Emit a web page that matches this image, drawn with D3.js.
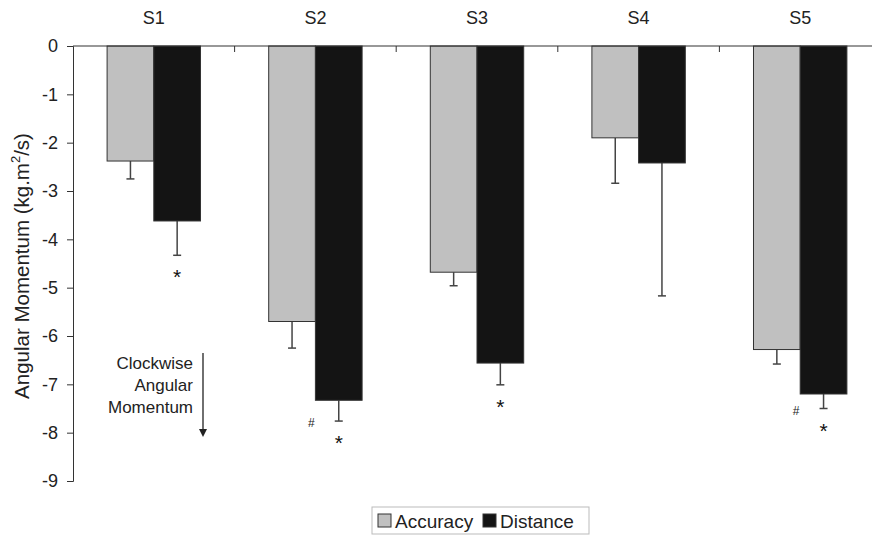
<!DOCTYPE html>
<html>
<head>
<meta charset="utf-8">
<script src="https://cdn.jsdelivr.net/npm/d3@7"></script>
<style>
  body { margin: 0; background: #fff; }
  svg { font-family: "Liberation Sans", Arial, sans-serif; }
</style>
</head>
<body>
<div id="chart"></div>
<script>
// subjects and the two conditions
const subjects = ['S1', 'S2', 'S3', 'S4', 'S5'];
const series = ['Accuracy', 'Distance'];
const accuracy = [-2.38, -5.70, -4.68, -1.90, -6.28];
const accuracyErr = [0.37, 0.55, 0.28, 0.94, 0.30];
const distance = [-3.62, -7.33, -6.56, -2.42, -7.20];
const distanceErr = [0.71, 0.43, 0.45, 2.75, 0.30];
const yTicks = [0, -1, -2, -3, -4, -5, -6, -7, -8, -9];
// significance marks: * under distance bar, # next to it
const starMarks = [true, true, true, false, true];
const hashMarks = [false, true, false, false, true];

const width = 872, height = 541;
const margin = { top: 46, right: -9, bottom: 60, left: 73 };

const svg = d3.select('#chart').append('svg')
  .attr('width', width)
  .attr('height', height);

const x0 = d3.scaleBand()
  .domain(subjects)
  .range([margin.left, width - margin.right])
  .paddingInner(0)
  .paddingOuter(0);

const x1 = d3.scaleBand()
  .domain(series)
  .range([0, x0.bandwidth()])
  .paddingOuter(0.73)
  .paddingInner(0);

const y = d3.scaleLinear()
  .domain([0, -9])
  .range([margin.top, 481]);

const colors = { Accuracy: '#c0c0c0', Distance: '#141414' };

const rows = subjects.map((s, i) => ({
  subject: s,
  values: [
    { key: 'Accuracy', value: accuracy[i], err: accuracyErr[i] },
    { key: 'Distance', value: distance[i], err: distanceErr[i] }
  ],
  star: starMarks[i],
  hash: hashMarks[i]
}));

// y axis
const yAxis = d3.axisLeft(y).tickValues(yTicks).tickSize(6).tickFormat(d3.format('d'));
const gy = svg.append('g')
  .attr('transform', `translate(${margin.left},0)`)
  .call(yAxis);
gy.select('.domain').attr('stroke', '#333');
gy.selectAll('.tick line').attr('stroke', '#333');
gy.selectAll('.tick text')
  .attr('font-size', 18)
  .attr('fill', '#222')
  .attr('x', -15)
  .text(d => d === 0 ? '0' : '-' + Math.abs(d));

// error bars (drawn first so the bars cover the inner half)
const groups = svg.append('g').selectAll('g')
  .data(rows)
  .join('g')
  .attr('transform', d => `translate(${x0(d.subject)},0)`);

groups.selectAll('.err')
  .data(d => d.values)
  .join('g')
  .attr('class', 'err')
  .each(function(d) {
    const g = d3.select(this);
    const cx = x1(d.key) + x1.bandwidth() / 2;
    g.append('line')
      .attr('x1', cx).attr('x2', cx)
      .attr('y1', y(d.value)).attr('y2', y(d.value - d.err))
      .attr('stroke', '#444').attr('stroke-width', 1.5);
    g.append('line')
      .attr('x1', cx - 4).attr('x2', cx + 4)
      .attr('y1', y(d.value - d.err)).attr('y2', y(d.value - d.err))
      .attr('stroke', '#444').attr('stroke-width', 1.5);
  });

groups.selectAll('rect')
  .data(d => d.values)
  .join('rect')
  .attr('x', d => x1(d.key))
  .attr('y', y(0))
  .attr('width', x1.bandwidth())
  .attr('height', d => y(d.value) - y(0))
  .attr('fill', d => colors[d.key])
  .attr('stroke', '#333')
  .attr('stroke-width', 1);

// top axis (zero line) with category labels
const gx = svg.append('g')
  .attr('transform', `translate(0,${y(0)})`);
gx.append('line')
  .attr('x1', margin.left).attr('x2', width - margin.right)
  .attr('stroke', '#333').attr('stroke-width', 1.2);
gx.selectAll('.sep')
  .data(subjects.slice(1))
  .join('line')
  .attr('class', 'sep')
  .attr('x1', d => x0(d)).attr('x2', d => x0(d))
  .attr('y1', 0).attr('y2', 6)
  .attr('stroke', '#333');
svg.selectAll('.cat')
  .data(subjects)
  .join('text')
  .attr('class', 'cat')
  .attr('x', d => x0(d) + x0.bandwidth() / 2)
  .attr('y', 24)
  .attr('text-anchor', 'middle')
  .attr('font-size', 18)
  .attr('fill', '#222')
  .text(d => d);

// significance markers
groups.filter(d => d.star)
  .append('text')
  .attr('x', x1('Distance') + x1.bandwidth() / 2)
  .attr('y', d => y(d.values[1].value - d.values[1].err) + 29)
  .attr('text-anchor', 'middle')
  .attr('font-size', 21)
  .attr('fill', '#111')
  .text('*');
groups.filter(d => d.hash)
  .append('text')
  .attr('x', x1('Distance') - 4)
  .attr('y', d => y(d.values[1].value - d.values[1].err) + 6)
  .attr('text-anchor', 'middle')
  .attr('font-size', 12)
  .attr('fill', '#222')
  .text('#');

// y axis title
svg.append('text')
  .attr('transform', 'translate(29,266) rotate(-90)')
  .attr('text-anchor', 'middle')
  .attr('font-size', 20.5)
  .attr('fill', '#222')
  .html('Angular Momentum (kg.m<tspan dy="-9" font-size="13">2</tspan><tspan dy="9">/s)</tspan>');

// direction note with arrow
const note = svg.append('g');
['Clockwise', 'Angular', 'Momentum'].forEach((t, i) => {
  note.append('text')
    .attr('x', 193)
    .attr('y', 369 + i * 22)
    .attr('text-anchor', 'end')
    .attr('font-size', 17)
    .attr('fill', '#222')
    .text(t);
});
note.append('line')
  .attr('x1', 203).attr('x2', 203)
  .attr('y1', 353).attr('y2', 430)
  .attr('stroke', '#222').attr('stroke-width', 1.3);
note.append('path')
  .attr('d', 'M199,429 L207,429 L203,437 Z')
  .attr('fill', '#222');

// legend
const legend = svg.append('g').attr('transform', 'translate(372,507)');
legend.append('rect')
  .attr('width', 217).attr('height', 27)
  .attr('fill', '#fff').attr('stroke', '#bbb');
const items = [
  { key: 'Accuracy', x: 6 },
  { key: 'Distance', x: 111 }
];
items.forEach(it => {
  legend.append('rect')
    .attr('x', it.x).attr('y', 7)
    .attr('width', 13).attr('height', 13)
    .attr('fill', colors[it.key])
    .attr('stroke', '#333');
  legend.append('text')
    .attr('x', it.x + 17).attr('y', 21)
    .attr('font-size', 19)
    .attr('fill', '#222')
    .text(it.key);
});
</script>
</body>
</html>
